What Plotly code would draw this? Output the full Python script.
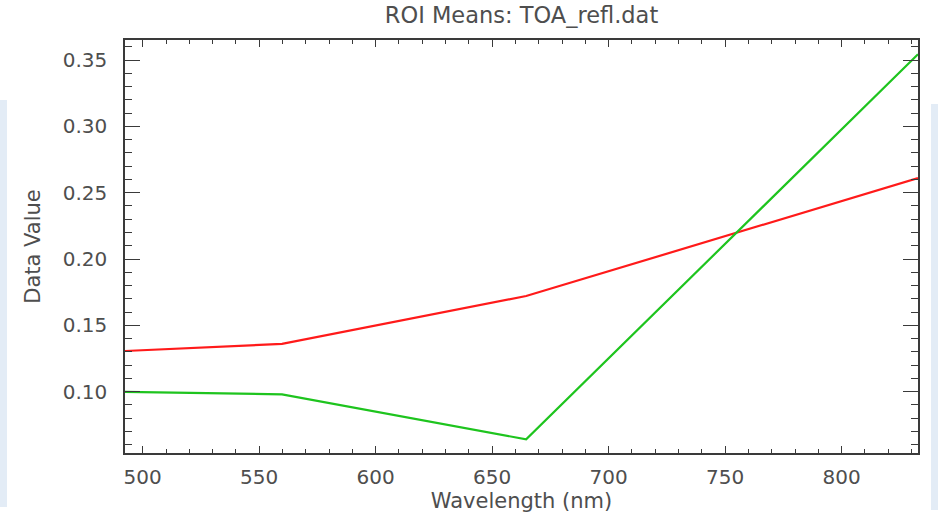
import plotly.graph_objects as go

wavelength = [492.4, 559.8, 664.6, 832.8]
roi_red = [0.1307, 0.1360, 0.1721, 0.2610]
roi_green = [0.0998, 0.0980, 0.0641, 0.3543]
series_names = ["ROI #1", "ROI #2"]
series_colors = ["#ff1a1a", "#1ec41e"]

W, H = 938, 515
L, R, T, B = 125, 938 - 918, 40, 515 - 453

def px2paper_x(px):
    return (px - L) / (W - L - R)

def px2paper_y(py):
    return (H - B - py) / (H - T - B)

fig = go.Figure()
for name, ys, col in zip(series_names, [roi_red, roi_green], series_colors):
    fig.add_trace(go.Scatter(x=wavelength, y=ys, mode="lines", name=name,
                             line=dict(color=col, width=2.2)))

# pale blue screenshot background strips at the edges
shapes = []
for x0, x1, y0, y1 in [(0, 7, 100, 507), (931, 938, 104, 510)]:
    shapes.append(dict(type="rect", xref="paper", yref="paper",
                       x0=px2paper_x(x0), x1=px2paper_x(x1),
                       y0=px2paper_y(y1), y1=px2paper_y(y0),
                       fillcolor="#e3ecf6", line=dict(width=0), layer="below"))

font_family = "DejaVu Sans"
text_color = "#4e4e4e"
axis_color = "#3a3a3a"

fig.update_layout(
    width=W, height=H,
    margin=dict(l=L, r=R, t=T, b=B, autoexpand=False),
    paper_bgcolor="white", plot_bgcolor="white",
    showlegend=False,
    shapes=shapes,
    font=dict(family=font_family, size=20, color=text_color),
    title=dict(text="ROI Means: TOA_refl.dat", x=0.5, xref="paper",
               y=1 - 15 / H, yref="container", yanchor="middle", xanchor="center",
               font=dict(family=font_family, size=22.5, color=text_color)),
)

fig.update_xaxes(
    range=[492.4, 832.8], tickvals=[500, 550, 600, 650, 700, 750, 800],
    ticks="inside", ticklen=7, tickwidth=1.3, tickcolor=axis_color,
    minor=dict(dtick=10, ticks="inside", ticklen=4, tickwidth=1, tickcolor=axis_color, showgrid=False),
    showline=True, linecolor=axis_color, linewidth=1.5, mirror="allticks",
    showgrid=False, zeroline=False, ticklabelstandoff=5, automargin=False,
    tickfont=dict(size=20, color=text_color),
    title=dict(text="Wavelength (nm)", standoff=5, font=dict(size=21, color=text_color)),
)
fig.update_yaxes(
    range=[0.0538, 0.3651], tickvals=[0.10, 0.15, 0.20, 0.25, 0.30, 0.35],
    tickformat=".2f",
    ticks="inside", ticklen=15, tickwidth=1.3, tickcolor=axis_color,
    minor=dict(dtick=0.01, ticks="inside", ticklen=7, tickwidth=1, tickcolor=axis_color, showgrid=False),
    showline=True, linecolor=axis_color, linewidth=1.5, mirror="allticks",
    showgrid=False, zeroline=False, ticklabelstandoff=12, automargin=False,
    tickfont=dict(size=20, color=text_color),
    title=dict(text="Data Value", standoff=16, font=dict(size=21, color=text_color)),
)

fig.write_html("out.html")
